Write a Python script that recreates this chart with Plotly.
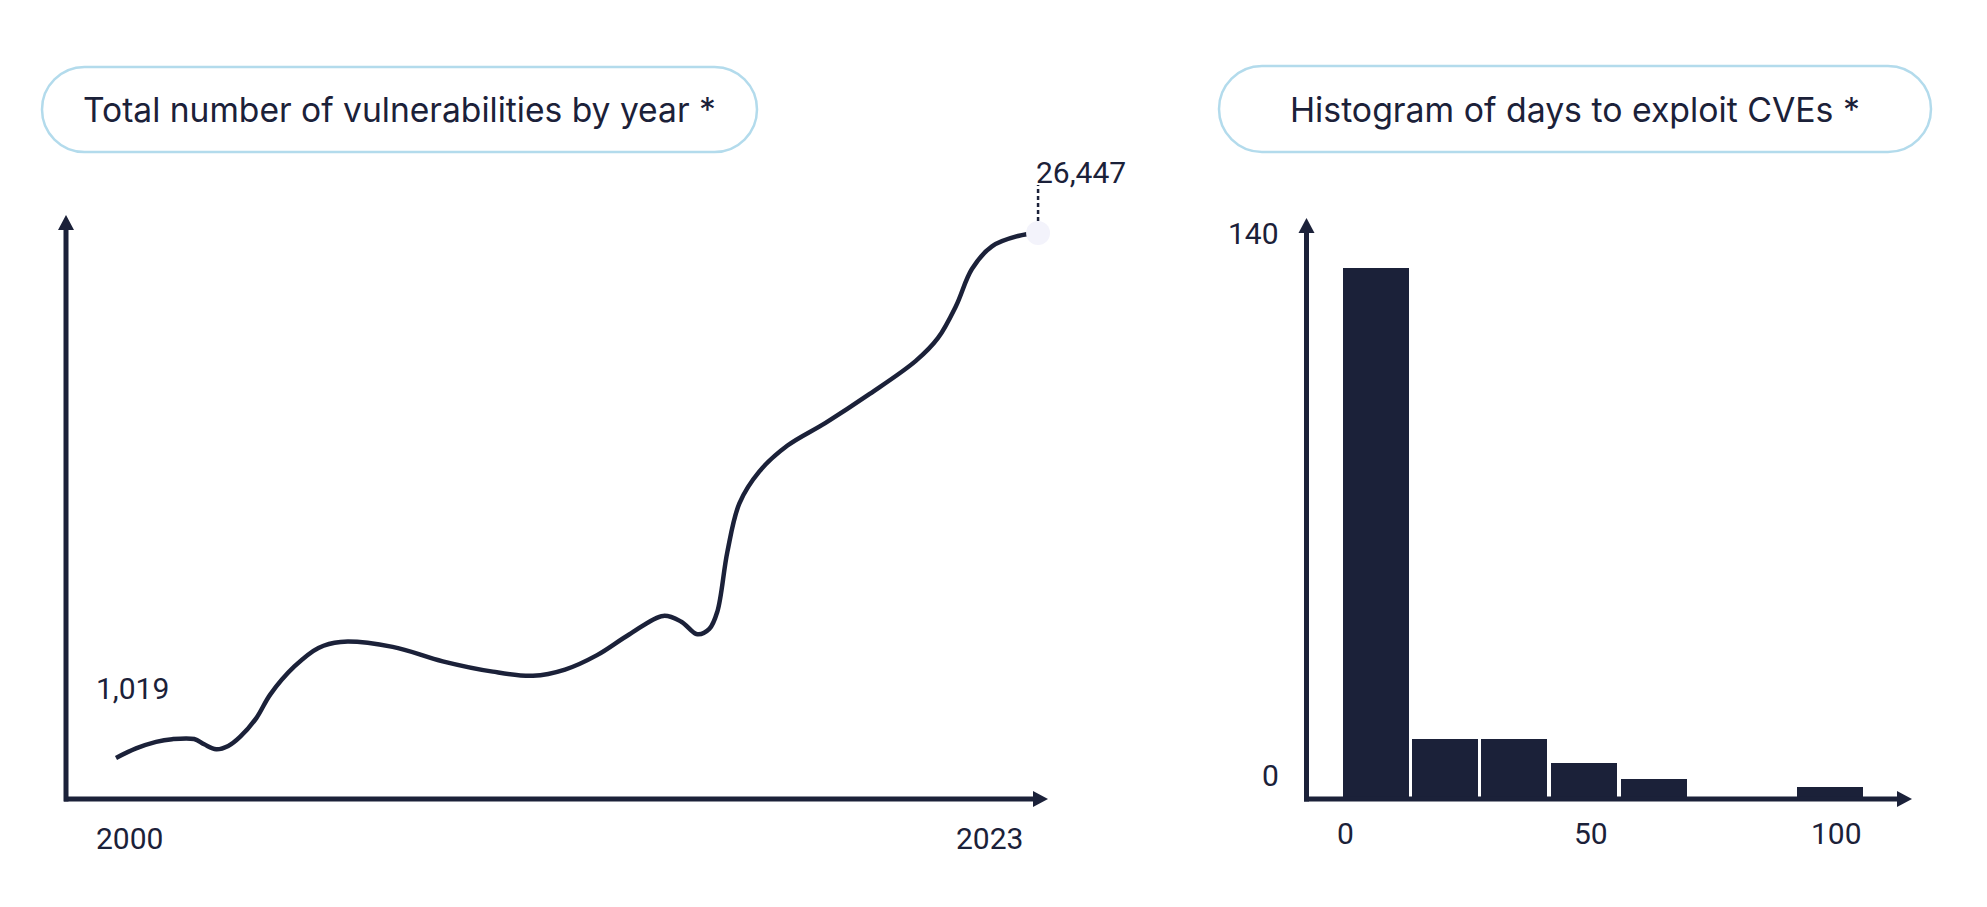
import plotly.graph_objects as go

W, H = 1987, 907
NAVY = "#1b2139"
PILL = "#b3dbec"
TITLE_FONT = "Inter"
NUM_FONT = "Roboto"

# ---------------- data ----------------
# Left: smoothed yearly vulnerability curve
curve_year = [2000.0, 2000.5, 2001.0, 2001.4, 2001.95, 2002.2, 2002.5, 2002.8, 2003.1,
              2003.5, 2003.85, 2004.45, 2005.05, 2005.6, 2006.9, 2008.15, 2009.4,
              2010.4, 2011.2, 2012.0, 2012.8, 2013.65, 2014.1, 2014.5, 2014.8, 2015.0,
              2015.25, 2015.55, 2016.05, 2016.75, 2017.7, 2018.8, 2019.95, 2020.5,
              2020.95, 2021.35, 2021.85, 2022.5, 2023.0]
curve_count = [1019, 1480, 1800, 1930, 1935, 1680, 1440, 1600, 2050,
               2950, 4100, 5450, 6350, 6640, 6400, 5700, 5200,
               5000, 5300, 6000, 7000, 7900, 7620, 7010, 7270, 8110,
               11000, 13350, 14900, 16150, 17250, 18650, 20250, 21350,
               22900, 24700, 25800, 26300, 26447]
year_labels = ["2000", "2023"]

# Right: histogram of days to exploit CVEs
bin_center = [6.3, 20.4, 34.5, 48.7, 62.9, 98.8]
bin_count = [133, 15, 15, 9, 5, 3]
bin_width = 13.45
hist_xticks = [0, 50, 100]
hist_yticks = [0, 140]

titles = ["Total number of vulnerabilities by year *", "Histogram of days to exploit CVEs *"]


# ---------------- helpers (pixel -> paper) ----------------
def px(x):
    return x / W


def py(y):
    return 1 - y / H


def pill_path(x0, y0, x1, y1):
    r = (y1 - y0) / 2.0
    k = 0.5523 * r

    def P(x, y):
        return f"{px(x):.6f},{py(y):.6f}"
    d = (f"M {P(x0 + r, y0)} L {P(x1 - r, y0)} "
         f"C {P(x1 - r + k, y0)} {P(x1, y0 + r - k)} {P(x1, y0 + r)} "
         f"C {P(x1, y0 + r + k)} {P(x1 - r + k, y1)} {P(x1 - r, y1)} "
         f"L {P(x0 + r, y1)} "
         f"C {P(x0 + r - k, y1)} {P(x0, y0 + r + k)} {P(x0, y0 + r)} "
         f"C {P(x0, y0 + r - k)} {P(x0 + r - k, y0)} {P(x0 + r, y0)} Z")
    return d


def tri(points):
    return "M " + " L ".join(f"{px(x):.6f},{py(y):.6f}" for x, y in points) + " Z"


fig = go.Figure()

# Left curve
fig.add_trace(go.Scatter(
    x=curve_year, y=curve_count, mode="lines",
    line=dict(color=NAVY, width=4.5, shape="spline", smoothing=1.0),
    xaxis="x", yaxis="y", hoverinfo="skip", showlegend=False))
# End marker
fig.add_trace(go.Scatter(
    x=[curve_year[-1]], y=[curve_count[-1]], mode="markers",
    marker=dict(color="#f3f3fb", size=24, line=dict(width=0)),
    cliponaxis=False, xaxis="x", yaxis="y", hoverinfo="skip", showlegend=False))

# Histogram bars
fig.add_trace(go.Bar(
    x=bin_center, y=bin_count, width=bin_width,
    marker=dict(color=NAVY, line=dict(width=0)),
    xaxis="x2", yaxis="y2", hoverinfo="skip", showlegend=False))

# Axis geometry (pixel -> data ranges)
L_X0, L_X1 = 60, 1100
L_YB, L_YT = 799, 160
lx_range = [2000 + (L_X0 - 116) / 40.09, 2000 + (L_X1 - 116) / 40.09]
ly_range = [(779 - L_YB) / 0.020647, (779 - L_YT) / 0.020647]
R_X0, R_X1 = 1300, 1950
rx_range = [(R_X0 - 1345) / 4.91, (R_X1 - 1345) / 4.91]
ry_range = [(799 - L_YB) / 3.99, (799 - L_YT) / 3.99]

hidden = dict(visible=False, fixedrange=True)
fig.update_layout(
    width=W, height=H, margin=dict(l=0, r=0, t=0, b=0),
    paper_bgcolor="white", plot_bgcolor="rgba(0,0,0,0)",
    showlegend=False, bargap=0,
    xaxis=dict(domain=[px(L_X0), px(L_X1)], range=lx_range, anchor="y", **hidden),
    yaxis=dict(domain=[py(L_YB), py(L_YT)], range=ly_range, anchor="x", **hidden),
    xaxis2=dict(domain=[px(R_X0), px(R_X1)], range=rx_range, anchor="y2", **hidden),
    yaxis2=dict(domain=[py(L_YB), py(L_YT)], range=ry_range, anchor="x2", **hidden),
)

shapes = []
shapes.append(dict(type="path", xref="paper", yref="paper", path=pill_path(42, 67, 757, 152),
                   line=dict(color=PILL, width=2.5), fillcolor="rgba(0,0,0,0)"))
shapes.append(dict(type="path", xref="paper", yref="paper", path=pill_path(1219, 66, 1931, 152),
                   line=dict(color=PILL, width=2.5), fillcolor="rgba(0,0,0,0)"))


def axis_line(x0, y0, x1, y1):
    return dict(type="line", xref="paper", yref="paper", x0=px(x0), y0=py(y0), x1=px(x1), y1=py(y1),
                line=dict(color=NAVY, width=5))


shapes += [
    axis_line(64, 799, 1034, 799),
    axis_line(66, 801.5, 66, 229),
    axis_line(1304, 799, 1898, 799),
    axis_line(1306.5, 801.5, 1306.5, 232),
]
for pts in [
    [(1033, 791), (1048, 799), (1033, 807)],
    [(58, 230), (66, 215), (74, 230)],
    [(1897, 791), (1912, 799), (1897, 807)],
    [(1298.5, 233), (1306.5, 218), (1314.5, 233)],
]:
    shapes.append(dict(type="path", xref="paper", yref="paper", path=tri(pts),
                       line=dict(width=0), fillcolor=NAVY))

shapes.append(dict(type="line", xref="x", yref="y", ysizemode="pixel", yanchor=curve_count[-1],
                   x0=curve_year[-1], x1=curve_year[-1], y0=12, y1=48,
                   line=dict(color=NAVY, width=2.5, dash="4px,3px"), layer="above"))
fig.update_layout(shapes=shapes)

ann = []
ann.append(dict(text=titles[0], xref="paper", yref="paper", x=px((42 + 757) / 2), y=py(109.5),
                xanchor="center", yanchor="middle", showarrow=False,
                font=dict(family=TITLE_FONT, size=33.6, color=NAVY)))
ann.append(dict(text=titles[1], xref="paper", yref="paper", x=px((1219 + 1931) / 2), y=py(109),
                xanchor="center", yanchor="middle", showarrow=False,
                font=dict(family=TITLE_FONT, size=33.8, color=NAVY)))

numfont = dict(family=NUM_FONT, size=30, color=NAVY)
ann.append(dict(text=f"{curve_count[0]:,}", xref="x", yref="y", x=curve_year[0], y=curve_count[0],
                xanchor="left", yanchor="middle", xshift=-22, yshift=69, showarrow=False, font=numfont))
ann.append(dict(text=f"{curve_count[-1]:,}", xref="x", yref="y", x=curve_year[-1], y=curve_count[-1],
                xanchor="left", yanchor="middle", xshift=-4, yshift=60, showarrow=False, font=numfont))
ann.append(dict(text=year_labels[0], xref="x", yref="paper", x=curve_year[0], y=py(838),
                xanchor="left", yanchor="middle", xshift=-22, showarrow=False, font=numfont))
ann.append(dict(text=year_labels[1], xref="x", yref="paper", x=curve_year[-1], y=py(838),
                xanchor="right", yanchor="middle", xshift=-13, showarrow=False, font=numfont))
for v in hist_xticks:
    ann.append(dict(text=str(v), xref="x2", yref="paper", x=v, y=py(833),
                    xanchor="center", yanchor="middle", showarrow=False, font=numfont))
for v, shift in zip(hist_yticks, [24, 7]):
    ann.append(dict(text=str(v), xref="paper", yref="y2", x=px(1281), y=v,
                    xanchor="right", yanchor="middle", yshift=shift, showarrow=False, font=numfont))
fig.update_layout(annotations=ann)

fig.write_html("out.html", config={"displayModeBar": False, "staticPlot": True},
               post_script="document.body.style.margin='0px';")
